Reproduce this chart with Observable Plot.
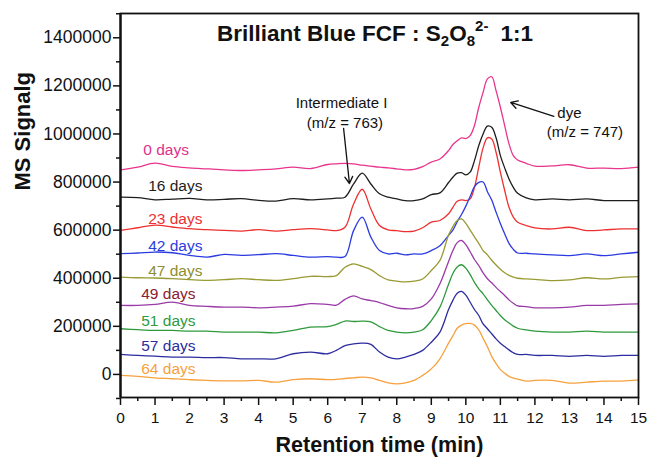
<!DOCTYPE html>
<html>
<head>
<meta charset="utf-8">
<script src="https://cdn.jsdelivr.net/npm/d3@7"></script>
<script src="https://cdn.jsdelivr.net/npm/@observablehq/plot@0.6"></script>
<style>
  html, body { margin: 0; padding: 0; background: #fff; }
  svg { display: block; }
</style>
</head>
<body>
<div id="chart"></div>
<script>
// Retention time (min) sample points
const times = [0,0.5,1,1.5,2,2.5,3,3.5,4,4.5,5,5.5,6,
  6.25,6.5,6.75,7,7.25,7.5,7.75,8,8.25,8.5,8.75,9,9.25,
  9.5,9.625,9.75,9.875,10,10.125,10.25,10.375,10.5,10.625,10.75,10.875,11,11.125,11.25,11.375,11.5,
  11.75,12,12.5,13,13.5,14,14.5,15];

// MS signal (in thousands), offset traces
const days0 = [851,862,879,865,859,855,851,848,851,855,862,856,873,
  876,878,876,870,866,862,859,855,851,853,864,883,896,
  931,956,972,984,981,993,1035,1111,1173,1229,1238,1180,1111,1035,959,910,892,
  878,866,867,872,858,858,856,862];
const days16 = [737,735,726,729,732,726,728,731,724,721,731,726,730,
  733,737,792,837,792,751,737,730,723,723,730,748,755,
  798,820,837,839,830,841,889,952,1000,1033,1028,984,910,859,813,778,753,
  734,726,730,726,730,723,723,723];
const days23 = [599,610,621,613,606,602,599,596,602,596,602,606,601,
  598,612,709,770,688,619,601,598,594,596,610,633,640,
  668,695,720,726,723,730,778,862,942,984,979,924,841,765,695,654,633,
  619,609,605,612,598,601,605,605];
const days42 = [502,505,509,506,495,488,499,495,498,502,495,488,490,
  488,490,598,654,571,515,501,504,497,501,501,515,535,
  578,600,635,665,700,740,781,799,800,760,725,675,628,585,545,520,505,
  504,501,497,494,501,494,501,508];
const days47 = [405,402,401,398,394,391,394,398,394,391,398,408,407,
  411,446,460,449,436,411,393,388,385,388,397,432,474,
  580,615,640,647,628,600,572,545,515,497,475,455,437,423,412,405,400,
  397,395,390,393,402,397,404,407];
const days49 = [287,287,291,301,287,283,280,280,277,280,284,294,291,
  288,312,327,314,307,299,287,277,273,274,283,314,377,
  470,515,548,557,540,510,478,453,422,398,381,362,345,328,310,296,285,
  282,277,277,280,287,287,291,293];
const days51 = [190,186,183,183,180,180,176,176,176,173,183,197,199,
  208,222,220,222,219,199,183,176,173,176,186,224,280,
  375,420,447,456,442,415,383,356,335,310,287,266,245,227,214,201,192,
  185,180,176,176,180,176,176,176];
const days57 = [83,79,76,72,72,70,70,65,65,65,86,93,86,
  100,120,127,130,125,93,72,65,72,83,100,134,176,
  270,308,338,345,330,300,270,245,210,190,169,148,130,116,102,90,83,
  83,79,79,75,79,75,79,79];
const days64 = [-4,-8,-14,-18,-22,-25,-27,-27,-25,-32,-22,-18,-22,
  -21,-17,-14,-11,-14,-25,-35,-39,-35,-25,-4,23,65,
  130,160,192,205,211,212,205,185,150,115,75,45,20,5,-8,-15,-20,
  -28,-25,-25,-36,-32,-28,-28,-23];

const seriesNames = ["0 days","16 days","23 days","42 days","47 days","49 days","51 days","57 days","64 days"];
const seriesValues = [days0, days16, days23, days42, days47, days49, days51, days57, days64];
// label anchor (time, signal in thousands)
const labelTimes = [0.66, 0.8, 0.8, 0.8, 0.8, 0.6, 0.6, 0.6, 0.6];
const labelSignals = [935, 782, 646, 532, 432, 333, 224, 116, 23];

const yTicks = [0,200,400,600,800,1000,1200,1400];
const yMinorTicks = [-100,100,300,500,700,900,1100,1300,1500];
const xTicks = [0,1,2,3,4,5,6,7,8,9,10,11,12,13,14,15];
const xMinorTicks = [0.5,1.5,2.5,3.5,4.5,5.5,6.5,7.5,8.5,9.5,10.5,11.5,12.5,13.5,14.5];

const annotTexts = ["Intermediate I", "(m/z = 763)", "dye", "(m/z = 747)"];
const annotTimes = [6.4, 6.5, 13.0, 13.45];
const annotSignals = [1127, 1045, 1085, 1006];
const arrowFrom = [[6.46, 1023], [12.55, 1073]];
const arrowTo = [[6.63, 794], [11.3, 1131]];

const lineColors = ["#e8358d","#1e1e1e","#ee3030","#2b3be0","#999a33","#9a3aa8","#2e9a3c","#2c2ca0","#f6a13e"];
const labelColors = ["#e0308a","#1e1e1e","#ee3030","#2b3be0","#8e8e30","#8a2030","#2e9a3c","#2c2ca0","#f6a13e"];

const marks = [];
seriesValues.forEach((vals, i) => {
  const rows = times.map((t, j) => ({t, v: vals[j]}));
  marks.push(Plot.line(rows, {x: "t", y: "v", stroke: lineColors[i], strokeWidth: 1.3, curve: "catmull-rom"}));
});
const labelRows = seriesNames.map((n, i) => ({name: n, t: labelTimes[i], v: labelSignals[i], c: labelColors[i]}));
marks.push(Plot.text(labelRows, {x: "t", y: "v", text: "name", fill: "c", textAnchor: "start", fontSize: 15.5}));

const annotRows = annotTexts.map((s, i) => ({s, t: annotTimes[i], v: annotSignals[i]}));
marks.push(Plot.text(annotRows, {x: "t", y: "v", text: "s", fontSize: 15, fill: "#111"}));
const arrowRows = arrowFrom.map((a, i) => ({x1: a[0], y1: a[1], x2: arrowTo[i][0], y2: arrowTo[i][1]}));
marks.push(Plot.arrow(arrowRows, {x1: "x1", y1: "y1", x2: "x2", y2: "y2", stroke: "#111", strokeWidth: 1.3, headLength: 9, bend: 0}));

marks.push(Plot.axisY({ticks: yTicks, tickSize: 7, tickPadding: 2, fontSize: 17.5, tickFormat: d => String(d * 1000), strokeWidth: 1.5}));
marks.push(Plot.axisY({ticks: yMinorTicks, tickSize: 4, tickFormat: () => "", strokeWidth: 1.5}));
marks.push(Plot.axisX({ticks: xTicks, tickSize: 8, tickPadding: 6, fontSize: 15.5, strokeWidth: 1.5}));
marks.push(Plot.axisX({ticks: xMinorTicks, tickSize: 4, tickFormat: () => "", strokeWidth: 1.5}));
marks.push(Plot.frame({stroke: "#111", strokeWidth: 1.8}));
marks.push(Plot.ruleX([0], {stroke: "#111", strokeWidth: 2.2}));
marks.push(Plot.text(["MS Signalg"], {frameAnchor: "left", dx: -98, dy: -15, rotate: -90, fontSize: 22, fontWeight: "bold", fill: "#111"}));
marks.push(Plot.text(["Retention time (min)"], {frameAnchor: "bottom", lineAnchor: "middle", dy: 48, fontSize: 21.5, fontWeight: "bold", fill: "#111"}));

const chart = Plot.plot({
  width: 647,
  height: 459,
  marginLeft: 120,
  marginRight: 9,
  marginTop: 13,
  marginBottom: 62,
  x: {domain: [0, 15]},
  y: {domain: [-96, 1501]},
  style: {fontFamily: "'Liberation Sans', Arial, sans-serif", fontSize: "16px", color: "#111", background: "#fff"},
  marks
});
document.getElementById("chart").appendChild(chart);

// Title with sub/superscripts
const svg = d3.select(chart);
const title = svg.append("text")
  .attr("x", 375).attr("y", 41)
  .attr("text-anchor", "middle")
  .attr("font-weight", "bold")
  .attr("font-size", 22.5)
  .attr("fill", "#111")
  .attr("font-family", "'Liberation Sans', Arial, sans-serif");
title.append("tspan").text("Brilliant Blue FCF : S");
title.append("tspan").attr("dy", 5).attr("font-size", 15).text("2");
title.append("tspan").attr("dy", -5).text("O");
title.append("tspan").attr("dy", 5).attr("font-size", 15).text("8");
title.append("tspan").attr("dy", -15).attr("font-size", 15).text("2-");
title.append("tspan").attr("dy", 10).attr("dx", 12).text("1:1");
</script>
</body>
</html>
